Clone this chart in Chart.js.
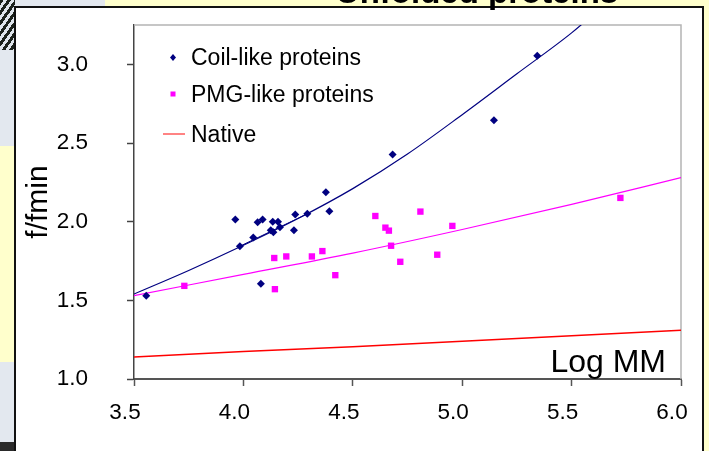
<!DOCTYPE html>
<html>
<head>
<meta charset="utf-8">
<script src="https://cdn.jsdelivr.net/npm/chart.js@4.4.0/dist/chart.umd.min.js"></script>
<style>
  html, body { margin: 0; padding: 0; }
  body { width: 709px; height: 451px; position: relative; overflow: hidden; background: #ffffcc; font-family: "Liberation Sans", Arial, sans-serif; }
  .bg { position: absolute; }
  #tex1 { left: 0; top: 0; width: 15px; height: 50px; background: repeating-linear-gradient(125deg, #1c221c 0 3px, #dfe5ec 3px 6px); }
  #blue1 { left: 0; top: 50px; width: 15px; height: 96px; background: #e3e8ef; }
  #blue2 { left: 0; top: 362px; width: 15px; height: 80px; background: #e3e8ef; }
  #tex2 { left: 0; top: 442px; width: 15px; height: 9px; background: #2a2a2a; }
  #topband { left: 15px; top: 0; width: 90px; height: 7px; background: #e3e8ef; }
  #panel { left: 14px; top: 6px; width: 686px; height: 460px; background: #fff; border: 2px solid #111; border-bottom: none; }
  #title { position: absolute; left: 277px; width: 400px; top: -25px; text-align: center; font-weight: bold; font-size: 33px; line-height: 33px; color: #000; z-index: 3; white-space: nowrap; }
  #chart { position: absolute; left: 0; top: 0; z-index: 2; }
</style>
</head>
<body>
<div class="bg" id="tex1"></div>
<div class="bg" id="blue1"></div>
<div class="bg" id="blue2"></div>
<div class="bg" id="tex2"></div>
<div class="bg" id="topband"></div>
<div class="bg" id="panel"></div>
<div id="title">Unfolded proteins</div>
<canvas id="chart" width="709" height="451"></canvas>
<script>
// values
const coilX = [3.556, 3.963, 3.984, 4.045, 4.065, 4.088, 4.080, 4.125, 4.134, 4.137, 4.158, 4.167, 4.231, 4.237, 4.292, 4.377, 4.393, 4.682, 5.145, 5.343];
const coilY = [1.529, 2.013, 1.843, 1.900, 1.996, 2.013, 1.605, 1.945, 2.000, 1.932, 2.000, 1.964, 1.945, 2.045, 2.051, 2.187, 2.066, 2.427, 2.645, 3.055];

const pmgX = [3.730, 4.141, 4.144, 4.196, 4.313, 4.361, 4.420, 4.603, 4.649, 4.665, 4.675, 4.717, 4.809, 4.886, 4.955, 5.723];
const pmgY = [1.592, 1.769, 1.571, 1.779, 1.779, 1.813, 1.660, 2.036, 1.962, 1.943, 1.847, 1.745, 2.064, 1.790, 1.973, 2.151];

// trend lines as drawn on the picture
const coilFitX = [3.5, 3.75, 4.0, 4.25, 4.5, 4.75, 5.0, 5.25, 5.5, 5.65];
const coilFitY = [1.54, 1.69, 1.85, 2.02, 2.21, 2.43, 2.68, 2.94, 3.20, 3.38];
const coilSegX = [3.99, 4.30];
const coilSegY = [1.848, 2.055];
const pmgFitX = [3.5, 4.0, 4.5, 5.0, 5.5, 6.0];
const pmgFitY = [1.53, 1.665, 1.80, 1.95, 2.11, 2.28];
const nativeX = [3.5, 4.0, 4.5, 5.0, 5.5, 6.0];
const nativeY = [1.14, 1.175, 1.205, 1.24, 1.275, 1.31];

const xTicks = [3.5, 4.0, 4.5, 5.0, 5.5, 6.0];
const yTicks = [1.0, 1.5, 2.0, 2.5, 3.0];

const legendItems = ['Coil-like proteins', 'PMG-like proteins', 'Native'];

const NAVY = '#000080', MAGENTA = '#ff00ff', RED = '#ff0000';
const FONT = '"Liberation Sans", Arial, sans-serif';

const pts = (xs, ys) => xs.map((x, i) => ({ x: x, y: ys[i] }));

// light grey frame on top/right of the plot area
const framePlugin = {
  id: 'frame',
  beforeDatasetsDraw(chart) {
    const a = chart.chartArea, ctx = chart.ctx;
    ctx.save();
    ctx.strokeStyle = '#b4b4b4';
    ctx.lineWidth = 1.5;
    ctx.beginPath();
    ctx.moveTo(a.left, a.top);
    ctx.lineTo(a.right, a.top);
    ctx.lineTo(a.right, a.bottom);
    ctx.stroke();
    ctx.restore();
  }
};

// legend in the upper left + "Log MM" label
const notesPlugin = {
  id: 'notes',
  afterDraw(chart) {
    const ctx = chart.ctx;
    ctx.save();
    ctx.font = '23px ' + FONT;
    ctx.fillStyle = '#000';
    ctx.textBaseline = 'alphabetic';
    ctx.textAlign = 'left';
    const base = [65, 102, 141.5];
    legendItems.forEach((t, i) => ctx.fillText(t, 191, base[i]));

    // diamond
    ctx.fillStyle = NAVY;
    ctx.beginPath();
    ctx.moveTo(173, 54); ctx.lineTo(176, 57.5); ctx.lineTo(173, 61); ctx.lineTo(170, 57.5);
    ctx.closePath(); ctx.fill();
    // square
    ctx.fillStyle = MAGENTA;
    ctx.fillRect(170.5, 91.5, 5, 5);
    // line
    ctx.strokeStyle = '#ff5a5a';
    ctx.lineWidth = 1.5;
    ctx.beginPath(); ctx.moveTo(163, 134); ctx.lineTo(185, 134); ctx.stroke();

    ctx.font = '32px ' + FONT;
    ctx.fillStyle = '#000';
    ctx.textAlign = 'right';
    ctx.fillText('Log MM', 666, 372);
    ctx.restore();
  }
};

const chart = new Chart(document.getElementById('chart'), {
  type: 'scatter',
  data: {
    datasets: [
      { label: 'Coil-like proteins', data: pts(coilX, coilY), backgroundColor: NAVY, borderColor: NAVY,
        pointStyle: 'rectRot', pointRadius: 4, pointBorderWidth: 0, order: 1 },
      { label: 'PMG-like proteins', data: pts(pmgX, pmgY), backgroundColor: MAGENTA, borderColor: MAGENTA,
        pointStyle: 'rect', pointRadius: 4.5, pointBorderWidth: 0, order: 1 },
      { label: 'Native', data: pts(nativeX, nativeY), showLine: true, borderColor: RED, borderWidth: 1.5,
        pointRadius: 0, order: 2 },
      { label: 'coil fit', data: pts(coilFitX, coilFitY), showLine: true, borderColor: NAVY, borderWidth: 1.2,
        pointRadius: 0, cubicInterpolationMode: 'monotone', order: 2 },
      { label: 'coil fit 2', data: pts(coilSegX, coilSegY), showLine: true, borderColor: NAVY, borderWidth: 1,
        pointRadius: 0, order: 2 },
      { label: 'PMG fit', data: pts(pmgFitX, pmgFitY), showLine: true, borderColor: MAGENTA, borderWidth: 1.2,
        pointRadius: 0, cubicInterpolationMode: 'monotone', order: 2 }
    ]
  },
  options: {
    responsive: false,
    animation: false,
    devicePixelRatio: 1,
    layout: { padding: { top: 25, right: 28, left: 0, bottom: 0 } },
    plugins: { legend: { display: false }, tooltip: { enabled: false } },
    scales: {
      x: {
        type: 'linear', min: 3.5, max: 6.0,
        afterFit: s => { s.height = 72; s.paddingLeft = 0; s.paddingRight = 0; },
        afterBuildTicks: s => { s.ticks = xTicks.map(v => ({ value: v })); },
        grid: { drawOnChartArea: false, drawTicks: true, tickLength: 7, color: '#555', tickWidth: 1.5 },
        border: { display: true, color: '#555', width: 2 },
        ticks: { padding: 13, labelOffset: -9, color: '#000', font: { family: FONT, size: 22.5 },
          callback: v => Number(v).toFixed(1) }
      },
      y: {
        type: 'linear', min: 1.0, max: 3.25,
        afterFit: s => { s.width = 134; s.paddingTop = 0; s.paddingBottom = 0; },
        afterBuildTicks: s => { s.ticks = yTicks.map(v => ({ value: v })); },
        grid: { drawOnChartArea: false, drawTicks: true, tickLength: 7, color: '#444', tickWidth: 1.5 },
        border: { display: true, color: '#444', width: 1.5 },
        ticks: { padding: 39, color: '#000', font: { family: FONT, size: 22.5 },
          callback: v => Number(v).toFixed(1) },
        title: { display: true, text: 'f/fmin', color: '#000', font: { family: FONT, size: 30 },
          padding: { top: 21, bottom: 0 } }
      }
    }
  },
  plugins: [framePlugin, notesPlugin]
});
</script>
</body>
</html>
